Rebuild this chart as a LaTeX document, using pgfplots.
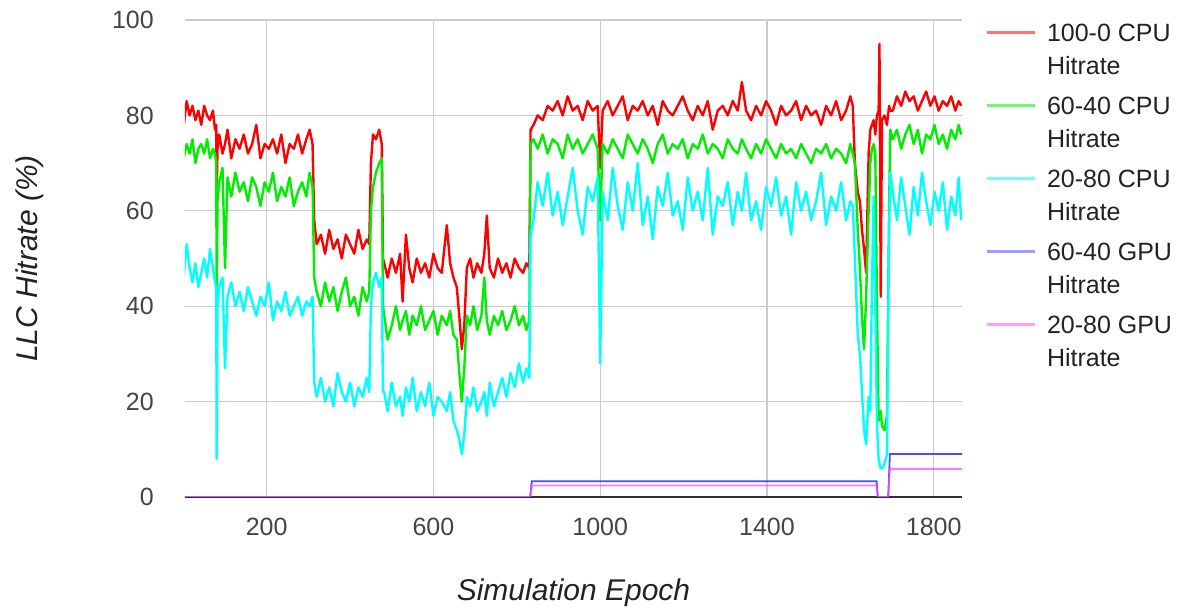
\documentclass[border=0pt]{standalone}
\usepackage{fontspec}
\setmainfont{Liberation Sans}
\usepackage{pgfplots}
\usepackage{pgfplotstable}
\pgfplotsset{compat=1.18}

\definecolor{cRed}{HTML}{FF0000}
\definecolor{cGreen}{HTML}{00EE00}
\definecolor{cCyan}{HTML}{00FFFF}
\definecolor{cBlue}{HTML}{4A4AFF}
\definecolor{cMag}{HTML}{FF4AFF}
\definecolor{gridc}{HTML}{CCCCCC}
\definecolor{axisc}{HTML}{333333}
\definecolor{tickc}{HTML}{444444}
\definecolor{textc}{HTML}{222222}

% CPU hit rates: epoch, 100-0, 60-40, 20-80
\pgfplotstableread{
x r g c
1 78 71 46
8 83 74 53
15 80 72 48
22 82 75 45
29 79 70 49
36 81 73 44
43 78 74 47
50 82 72 50
57 80 75 46
64 79 71 52
71 81 73 48
76 77 72 45
79 78 70 44
80 64 40 8
82 73 62 40
86 76 66 44
94 72 69 46
100 74 48 27
106 77 67 42
115 71 63 45
125 75 68 40
135 73 64 43
145 76 66 39
155 72 62 44
165 74 67 41
175 78 65 38
185 71 61 42
195 74 66 40
205 73 64 45
215 75 68 37
225 72 62 41
235 76 65 39
245 70 63 43
255 74 67 38
265 73 61 40
275 76 64 42
285 72 66 38
295 75 63 41
303 77 68 40
310 74 65 42
314 58 46 24
320 53 43 21
330 55 40 25
340 51 45 20
350 56 41 23
360 52 44 19
370 54 39 26
380 50 43 22
390 55 46 20
400 53 40 24
410 51 42 19
420 56 38 23
430 52 44 21
440 54 41 25
446 53 43 22
450 70 60 40
455 76 65 45
462 75 68 47
470 77 70 44
476 74 71 46
479 50 40 22
482 49 38 22
490 46 33 18
500 50 36 24
510 47 40 19
520 51 35 21
526 41 37 17
534 55 39 23
542 48 34 20
550 45 38 25
560 50 36 18
570 47 40 22
580 49 35 19
590 46 37 24
600 51 39 17
610 48 34 21
620 47 38 20
632 57 36 18
640 49 39 22
648 46 34 16
656 44 33 14
662 38 26 12
668 31 20 9
674 36 27 13
680 48 38 21
688 50 36 19
696 46 40 23
705 49 35 18
715 47 38 20
722 51 46 22
728 59 37 17
735 48 34 24
745 46 38 19
755 50 36 22
765 47 39 25
775 49 35 21
785 46 37 26
795 50 40 23
805 48 36 28
815 47 38 24
823 49 35 27
830 48 37 25
833 77 74 55
840 78 75 58
850 80 73 66
862 79 76 61
874 82 72 68
886 81 75 59
898 83 74 64
910 80 71 57
922 84 76 63
934 81 73 69
946 82 75 60
958 79 72 55
970 83 74 65
982 81 76 62
994 82 73 67
1000 69 58 28
1006 81 74 64
1018 83 72 58
1030 80 75 69
1042 82 73 61
1054 84 71 56
1066 79 76 66
1078 82 74 60
1090 81 72 70
1102 83 75 57
1114 80 73 63
1126 82 70 54
1138 78 74 65
1150 83 76 61
1162 81 72 68
1174 80 74 59
1186 82 73 62
1198 84 75 56
1210 81 71 67
1222 79 74 60
1234 82 73 64
1246 80 76 58
1258 83 72 69
1270 77 74 55
1282 81 73 63
1294 82 71 61
1306 80 75 66
1318 83 73 57
1330 81 72 64
1340 87 75 60
1350 81 73 68
1362 79 71 58
1374 82 74 62
1386 80 72 56
1398 83 75 65
1410 81 73 61
1422 78 71 67
1434 82 74 59
1446 80 72 63
1458 81 73 55
1470 83 71 66
1482 79 74 60
1494 82 72 64
1506 80 70 58
1518 81 73 62
1530 78 72 68
1542 82 74 57
1554 80 71 63
1566 83 73 60
1578 79 72 66
1590 81 70 58
1600 84 74 62
1606 82 72 61
1611 70 70 50
1618 64 56 34
1623 62 48 30
1628 56 38 22
1633 52 31 14
1638 47 42 11
1644 72 60 21
1648 77 70 18
1652 78 73 45
1656 79 74 63
1660 76 72 40
1664 80 40 15
1668 81 16 8
1670 95 17 7
1673 42 18 6
1676 79 15 6
1682 80 14 7
1688 78 17 9
1693 82 60 55
1696 81 77 68
1702 81 75 64
1712 84 77 58
1722 82 73 67
1732 85 76 61
1742 83 78 55
1752 84 74 65
1762 81 77 59
1772 83 72 68
1782 85 76 62
1792 82 75 57
1802 84 78 64
1812 81 74 60
1822 83 76 66
1832 82 73 56
1842 84 77 63
1852 81 75 59
1860 83 78 67
1866 82 76 58
}\cpu

% GPU hit rates
\pgfplotstableread{
x b m
4 0 0
832 0 0
836 3.3 2.4
1663 3.3 2.4
1666 0 0
1691 0 0
1695 9.0 5.9
1868 9.0 5.9
}\gpu

\begin{document}
\begin{tikzpicture}
\begin{axis}[
    set layers=standard,
    scale only axis,
    width=777pt, height=477pt,
    xmin=4, xmax=1868, ymin=0, ymax=100,
    xtick={200,600,1000,1400,1800},
    ytick={0,20,40,60,80,100},
    major tick length=0pt,
    grid=major,
    grid style={line width=1.3pt, color=gridc},
    axis x line*=bottom,
    axis y line*=left,
    x axis line style={draw=axisc, line width=1.6pt},
    y axis line style={draw=none},
    /pgf/number format/assume math mode=true,
    /pgf/number format/1000 sep={},
    ticklabel style={font=\fontsize{25}{30}\selectfont, text=tickc},
    xticklabel style={anchor=north, inner sep=0pt, yshift=-21pt},
    yticklabel style={anchor=east, inner sep=0pt, xshift=-31pt},
    xlabel={\itshape Simulation Epoch},
    ylabel={\itshape LLC Hitrate (\%)},
    label style={font=\fontsize{30}{36}\selectfont, text=textc},
    xlabel style={at={(axis description cs:0.5,-0.2013)}, anchor=center},
    ylabel style={at={(axis description cs:-0.1995,0.5)}, anchor=center},
    legend image code/.code={\draw[#1, line width=3pt, opacity=0.55] (0pt,9pt) -- (48pt,9pt);},
    legend style={
        at={(1,1)}, anchor=north west, xshift=23pt, yshift=2pt,
        draw=none, fill=none, inner sep=0pt, outer sep=0pt,
        row sep=7pt, column sep=11pt,
        nodes={inner sep=0pt, text depth={}},
        cells={anchor=base west},
        font=\fontsize{25}{33}\selectfont, text=textc,
    },
    cpu/.style={line width=2.4pt, line join=round},
]
\addplot[cRed, cpu] table[x=x, y=r] {\cpu};
\addlegendentry{\begin{tabular}[t]{@{}l@{}}100-0 CPU\\Hitrate\end{tabular}}
\addplot[cGreen, cpu] table[x=x, y=g] {\cpu};
\addlegendentry{\begin{tabular}[t]{@{}l@{}}60-40 CPU\\Hitrate\end{tabular}}
\addplot[cCyan, cpu] table[x=x, y=c] {\cpu};
\addlegendentry{\begin{tabular}[t]{@{}l@{}}20-80 CPU\\Hitrate\end{tabular}}
\addplot[cBlue, line width=1.8pt] table[x=x, y=b] {\gpu};
\addlegendentry{\begin{tabular}[t]{@{}l@{}}60-40 GPU\\Hitrate\end{tabular}}
\addplot[cMag, line width=1.8pt, opacity=0.75] table[x=x, y=m] {\gpu};
\addlegendentry{\begin{tabular}[t]{@{}l@{}}20-80 GPU\\Hitrate\end{tabular}}
\end{axis}
\pgfresetboundingbox
\path (-185pt,-116pt) rectangle (999pt,497pt);
\end{tikzpicture}
\end{document}
